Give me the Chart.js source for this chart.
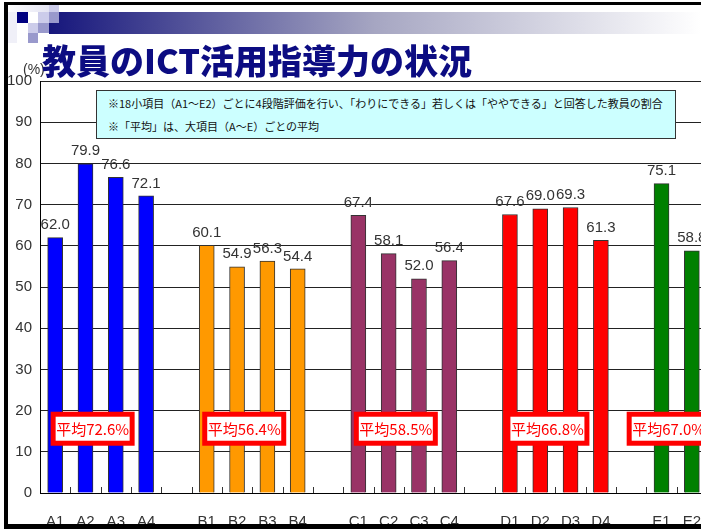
<!DOCTYPE html>
<html>
<head>
<meta charset="utf-8">
<script src="https://cdn.jsdelivr.net/npm/chart.js@4.4.1/dist/chart.umd.min.js"></script>
<style>
html, body { margin: 0; padding: 0; background: #fff; overflow: hidden; width: 701px; height: 529px; }
#wrap { position: relative; width: 701px; height: 529px; overflow: hidden; }
#stockGraph { position: absolute; left: 0; top: 0; }
.sq { position: absolute; }
#bar { position: absolute; left: 49px; top: 12px; width: 652px; height: 22px;
  background: linear-gradient(to right, #16167c 0%, #a6a6c2 50%, #ffffff 100%); }
#title { position: absolute; left: 42px; top: 43px; font-family: "Noto Sans CJK JP", sans-serif;
  font-weight: 900; font-size: 34px; line-height: 34px; color: #0c0c82; white-space: nowrap; }
#pct { position: absolute; left: 23px; top: 61px; font: 14px "Liberation Sans", Arial, sans-serif; color: #333; }
#note { position: absolute; left: 96px; top: 90px; width: 580px; height: 49px; box-sizing: border-box;
  background: #ccffff; border: 1px solid #333; font-family: "Noto Sans CJK JP", sans-serif;
  font-size: 11px; line-height: 23px; color: #111; padding: 1px 0 0 11px; white-space: nowrap; }
.frame { position: absolute; background: #000; }
</style>
</head>
<body>
<div id="wrap">
  <canvas id="stockGraph" width="707" height="529"></canvas>
  <div id="bar"></div>
  <div class="sq" style="left:6px;top:5px;width:43px;height:7px;background:linear-gradient(to right,#fff,#e4e4f2)"></div>
  <div class="sq" style="left:6px;top:12px;width:11px;height:31px;background:#f0f0f8"></div>
  <div class="sq" style="left:17px;top:12px;width:11px;height:11px;background:#000080"></div>
  <div class="sq" style="left:38px;top:12px;width:11px;height:11px;background:#ccccea"></div>
  <div class="sq" style="left:49px;top:4px;width:10px;height:8px;background:#ccccea"></div>
  <div class="sq" style="left:49px;top:12px;width:10px;height:11px;background:#9999cc"></div>
  <div class="sq" style="left:28px;top:23px;width:10px;height:10px;background:#ccccea"></div>
  <div class="sq" style="left:38px;top:23px;width:11px;height:10px;background:#9999cc"></div>
  <div class="sq" style="left:28px;top:33px;width:10px;height:10px;background:#9999cc"></div>
  <div id="pct">(%)</div>
  <div id="title">教員のICT活用指導力の状況</div>
  <div id="note">※18小項目（A1～E2）ごとに4段階評価を行い、「わりにできる」若しくは「ややできる」と回答した教員の割合<br>※「平均」は、大項目（A～E）ごとの平均</div>
  <div class="frame" style="left:4px;top:2px;width:697px;height:3px"></div>
  <div class="frame" style="left:4px;top:2px;width:4px;height:527px"></div>
  <div class="frame" style="left:4px;top:524px;width:697px;height:5px"></div>
</div>
<script>
// tick labels per group
const labelsA = ["A1", "A2", "A3", "A4"];
const labelsB = ["B1", "B2", "B3", "B4"];
const labelsC = ["C1", "C2", "C3", "C4"];
const labelsD = ["D1", "D2", "D3", "D4"];
const labelsE = ["E1", "E2"];

// percentages
const valuesA = [62.0, 79.9, 76.6, 72.1];
const valuesB = [60.1, 54.9, 56.3, 54.4];
const valuesC = [67.4, 58.1, 52.0, 56.4];
const valuesD = [67.6, 69.0, 69.3, 61.3];
const valuesE = [75.1, 58.8];

// group averages (平均)
const averages = [72.6, 56.4, 58.5, 66.8, 67.0];

const groupColors = ["#0000ff", "#ff9900", "#993366", "#ff0000", "#008000"];

// put the groups on one axis with an empty slot between them
let groupLabels = [labelsA, labelsB, labelsC, labelsD, labelsE];
let groupValues = [valuesA, valuesB, valuesC, valuesD, valuesE];
let categories = [];
let values = [];
let colors = [];
let ranges = [];
groupLabels.forEach((labels, g) => {
    if (g > 0) {
        categories.push("");
        values.push(null);
        colors.push("#fff");
    }
    let start = categories.length;
    labels.forEach((lab, i) => {
        categories.push(lab);
        values.push(groupValues[g][i]);
        colors.push(groupColors[g]);
    });
    ranges.push([start, categories.length - 1]);
});

const extras = {
    id: "extras",
    afterDatasetsDraw(chart) {
        const ctx = chart.ctx;
        const x = chart.scales.x;
        const y = chart.scales.y;
        const meta = chart.getDatasetMeta(0);
        ctx.save();

        // short tick marks pointing up into the plot
        ctx.strokeStyle = "#333";
        ctx.lineWidth = 1;
        const y0 = y.getPixelForValue(0);
        for (let i = 1; i < categories.length; i++) {
            let tx = Math.round((x.getPixelForValue(i - 1) + x.getPixelForValue(i)) / 2) + 0.5;
            ctx.beginPath();
            ctx.moveTo(tx, y0);
            ctx.lineTo(tx, y0 - 6);
            ctx.stroke();
        }

        // value labels above bars
        ctx.font = '15px "Liberation Sans", Arial, sans-serif';
        ctx.fillStyle = "#333";
        ctx.textAlign = "center";
        ctx.textBaseline = "bottom";
        meta.data.forEach((bar, i) => {
            if (values[i] == null) return;
            ctx.fillText(values[i].toFixed(1), bar.x, bar.y - 5);
        });

        // average boxes
        ctx.font = '15px "Noto Sans CJK JP", sans-serif';
        ctx.textBaseline = "middle";
        ranges.forEach((r, g) => {
            let cx = (x.getPixelForValue(r[0]) + x.getPixelForValue(r[1])) / 2 - 8;
            let cy = y.getPixelForValue(15.6);
            let w = 79, h = 29;
            ctx.fillStyle = "#fff";
            ctx.fillRect(cx - w / 2, cy - h / 2, w, h);
            ctx.strokeStyle = "#ff0000";
            ctx.lineWidth = 5;
            ctx.strokeRect(cx - w / 2, cy - h / 2, w, h);
            ctx.fillStyle = "#ff0000";
            ctx.fillText("平均" + averages[g].toFixed(1) + "%", cx, cy + 1);
        });
        ctx.restore();
    }
};

const ctx = document.getElementById("stockGraph").getContext("2d");
new Chart(ctx, {
    type: "bar",
    data: {
        labels: categories,
        datasets: [{
            data: values,
            backgroundColor: colors,
            borderColor: "#333",
            borderWidth: 1,
            barThickness: 15
        }]
    },
    options: {
        responsive: false,
        animation: false,
        layout: { padding: { top: 81, left: 0, right: 0, bottom: 0 } },
        plugins: {
            legend: { display: false },
            tooltip: { enabled: false }
        },
        scales: {
            x: {
                grid: { display: false, drawTicks: false },
                border: { display: true, color: "#000" },
                ticks: {
                    color: "#333",
                    font: { family: "'Liberation Sans', Arial, sans-serif", size: 15 },
                    padding: 20,
                    autoSkip: false,
                    maxRotation: 0
                },
                afterFit: (scale) => {
                    scale.height = 36;
                    scale.paddingLeft = 0;
                    scale.paddingRight = 0;
                }
            },
            y: {
                min: 0,
                max: 100,
                ticks: {
                    stepSize: 10,
                    color: "#333",
                    font: { family: "'Liberation Sans', Arial, sans-serif", size: 15 },
                    padding: 8
                },
                grid: { color: "#222", drawTicks: false },
                border: { display: true, color: "#000" },
                afterFit: (scale) => { scale.width = 40; }
            }
        }
    },
    plugins: [extras]
});
</script>
</body>
</html>
